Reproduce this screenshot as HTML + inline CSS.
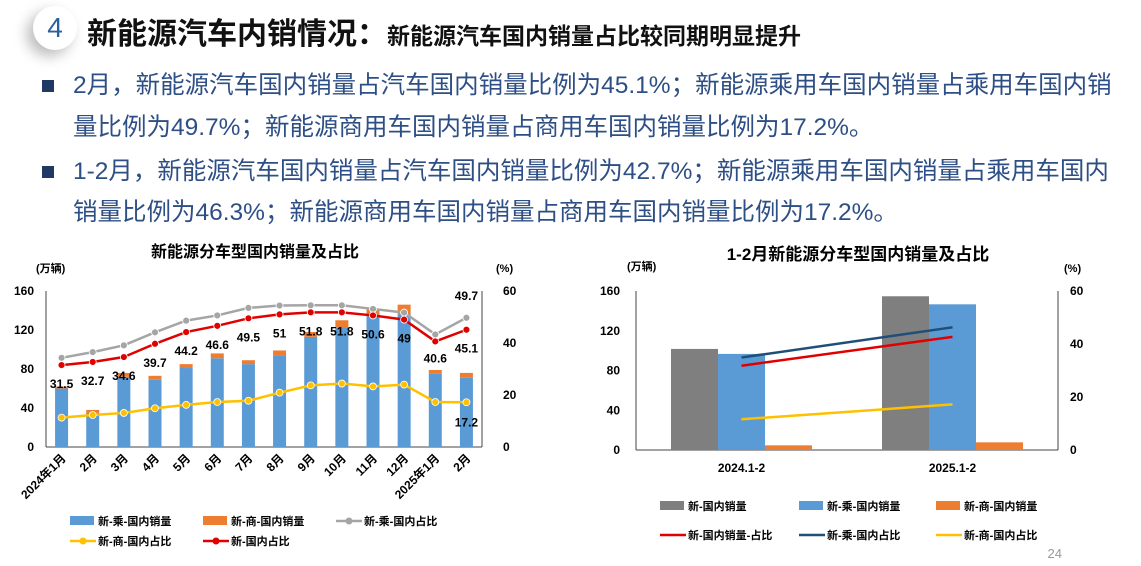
<!DOCTYPE html>
<html><head><meta charset="utf-8">
<style>
body{margin:0;width:1141px;height:566px;background:#fff;overflow:hidden;position:relative;font-family:"Liberation Sans","Noto Sans CJK SC",sans-serif;}
.circ{position:absolute;left:33px;top:6px;width:44px;height:44px;border-radius:50%;background:#fff;box-shadow:-6px 6px 14px #bbb;color:#2c5fa0;font-size:28px;text-align:center;line-height:44px;}
.title{position:absolute;left:87px;top:9px;font-weight:bold;color:#111;white-space:nowrap;font-size:30px;}
.title span{font-size:23px;}
.bul{position:absolute;left:42px;width:12px;height:12px;background:#1f3864;}
.txt{position:absolute;left:73px;font-size:24.5px;color:#2e4f86;white-space:nowrap;line-height:30px;}
svg{position:absolute;left:0;top:0;}
</style></head><body>
<div class="circ">4</div>
<div class="title">新能源汽车内销情况：<span>新能源汽车国内销量占比较同期明显提升</span></div>
<div class="bul" style="top:80px"></div>
<div class="txt" style="top:71px">2月，新能源汽车国内销量占汽车国内销量比例为45.1%；新能源乘用车国内销量占乘用车国内销</div>
<div class="txt" style="top:113px">量比例为49.7%；新能源商用车国内销量占商用车国内销量比例为17.2%。</div>
<div class="bul" style="top:166px"></div>
<div class="txt" style="top:157px">1-2月，新能源汽车国内销量占汽车国内销量比例为42.7%；新能源乘用车国内销量占乘用车国内</div>
<div class="txt" style="top:198px">销量比例为46.3%；新能源商用车国内销量占商用车国内销量比例为17.2%。</div>
<svg id="c" width="1141" height="566"></svg>
<script>
const months=["2024年1月","2月","3月","4月","5月","6月","7月","8月","9月","10月","11月","12月","2025年1月","2月"];
const passVol=[60,35,72,69,81,91,85,94,113,123,135,136,75,71];
const comVol=[2,3,4,4,4,5,4,5,5,7,6,10,4,5];
const passShare=[34.3,36.5,39.1,44.1,48.6,50.6,53.5,54.4,54.5,54.5,53.1,51.7,43.3,49.7];
const comShare=[11.3,12.3,13.1,14.9,16.2,17.3,17.8,20.9,23.7,24.4,23.3,24,17.3,17.2];
const totShare=[31.5,32.7,34.6,39.7,44.2,46.6,49.5,51,51.8,51.8,50.6,49,40.6,45.1];
const leftTicks=[0,40,80,120,160];
const rightTicks=[0,20,40,60];
const cats2=["2024.1-2","2025.1-2"];
const totVol2=[101.7,154.7];
const passVol2=[96.7,146.6];
const comVol2=[4.7,7.7];
const totShare2=[31.8,42.7];
const passShare2=[34.9,46.3];
const comShare2=[11.6,17.2];

const svg=document.getElementById('c');const NS="http://www.w3.org/2000/svg";
function el(t,a,txt){const e=document.createElementNS(NS,t);for(const k in a)e.setAttribute(k,a[k]);if(txt!==undefined)e.textContent=txt;svg.appendChild(e);return e;}
const F='"Liberation Sans","Noto Sans CJK SC",sans-serif';

// ---- left chart
const L={x0:46,x1:482,y0:447,y1:291};
const slot=(L.x1-L.x0)/months.length;
const lx=i=>L.x0+slot*(i+0.5);
const ly=v=>L.y0-(v/160)*(L.y0-L.y1);
const ry=v=>L.y0-(v/60)*(L.y0-L.y1);
let e;
e=el('text',{x:255,y:257,'font-size':16,'font-weight':'bold','text-anchor':'middle','font-family':F},'新能源分车型国内销量及占比');

e=el('text',{x:36,y:272,'font-size':11,'font-weight':'bold','font-family':F},'(万辆)');

e=el('text',{x:496,y:272,'font-size':11,'font-weight':'bold','font-family':F},'(%)');

leftTicks.forEach(t=>{e=el('text',{x:34,y:ly(t)+4,'font-size':12,'font-weight':'bold','text-anchor':'end','font-family':F},t);
});
rightTicks.forEach(t=>{e=el('text',{x:503,y:ry(t)+4,'font-size':12,'font-weight':'bold','font-family':F},t);
});
el('line',{x1:L.x0,y1:L.y1,x2:L.x0,y2:L.y0,stroke:'#444'});
el('line',{x1:L.x1,y1:L.y1,x2:L.x1,y2:L.y0,stroke:'#444'});
el('line',{x1:L.x0,y1:L.y0,x2:L.x1,y2:L.y0,stroke:'#444'});
months.forEach((m,i)=>{
 const bw=13;
 e=el('rect',{x:lx(i)-bw/2,y:ly(passVol[i]),width:bw,height:L.y0-ly(passVol[i]),fill:'#5b9bd5'});
 
 e=el('rect',{x:lx(i)-bw/2,y:ly(passVol[i]+comVol[i]),width:bw,height:ly(passVol[i])-ly(passVol[i]+comVol[i]),fill:'#ed7d31'});
 
 e=el('text',{transform:`translate(${lx(i)+5},${L.y0+12}) rotate(-45)`,'font-size':12,'font-weight':'bold','text-anchor':'end','font-family':F},m);
 
});
function series(arr,color,name,xf,yf,dots){
 e=el('polyline',{points:arr.map((v,i)=>xf(i)+','+yf(v)).join(' '),fill:'none',stroke:color,'stroke-width':2.5});
 
 if(dots)arr.forEach((v,i)=>{e=el('circle',{cx:xf(i),cy:yf(v),r:3.5,fill:color,stroke:'#fff','stroke-width':0.8});
 });
}
series(passShare,'#a5a5a5','line-passenger-share',lx,ry,true);
series(comShare,'#ffc000','line-commercial-share',lx,ry,true);
series(totShare,'#e00000','line-total-share',lx,ry,true);
totShare.forEach((v,i)=>{
 let y=ry(v)+23;if(i===12)y=ry(v)+21;
 e=el('text',{x:lx(i),y:y,'font-size':12,'font-weight':'bold','text-anchor':'middle','font-family':F},v);
 
});
e=el('text',{x:lx(13),y:ry(passShare[13])-18,'font-size':12,'font-weight':'bold','text-anchor':'middle','font-family':F},passShare[13]);

e=el('text',{x:lx(13),y:ry(comShare[13])+24,'font-size':12,'font-weight':'bold','text-anchor':'middle','font-family':F},comShare[13]);

function legend(x,y,type,color,label){
 if(type==='bar'){e=el('rect',{x:x,y:y-5,width:24,height:9,fill:color});}
 else{e=el('line',{x1:x,y1:y,x2:x+26,y2:y,stroke:color,'stroke-width':2.5});if(type==='dot')el('circle',{cx:x+13,cy:y,r:3.5,fill:color});}
 
 e=el('text',{x:x+28,y:y+4,'font-size':11,'font-weight':'bold','font-family':F},label);
 
}
legend(70,521,'bar','#5b9bd5','新-乘-国内销量');
legend(203,521,'bar','#ed7d31','新-商-国内销量');
legend(336,521,'dot','#a5a5a5','新-乘-国内占比');
legend(70,541,'dot','#ffc000','新-商-国内占比');
legend(203,541,'dot','#e00000','新-国内占比');

// ---- right chart
const R={x0:636,x1:1058,y0:450,y1:291};
const rs=(R.x1-R.x0)/cats2.length;
const rx=i=>R.x0+rs*(i+0.5);
const rly=v=>R.y0-(v/160)*(R.y0-R.y1);
const rry=v=>R.y0-(v/60)*(R.y0-R.y1);
e=el('text',{x:858,y:260,'font-size':17,'font-weight':'bold','text-anchor':'middle','font-family':F},'1-2月新能源分车型国内销量及占比');

e=el('text',{x:627,y:270,'font-size':11,'font-weight':'bold','font-family':F},'(万辆)');

e=el('text',{x:1064,y:272,'font-size':11,'font-weight':'bold','font-family':F},'(%)');

leftTicks.forEach(t=>{e=el('text',{x:620,y:rly(t)+4,'font-size':12,'font-weight':'bold','text-anchor':'end','font-family':F},t);
});
rightTicks.forEach(t=>{e=el('text',{x:1070,y:rry(t)+4,'font-size':12,'font-weight':'bold','font-family':F},t);
});
el('line',{x1:R.x0,y1:R.y1,x2:R.x0,y2:R.y0,stroke:'#444'});
el('line',{x1:R.x1,y1:R.y1,x2:R.x1,y2:R.y0,stroke:'#444'});
el('line',{x1:R.x0,y1:R.y0,x2:R.x1,y2:R.y0,stroke:'#444'});
cats2.forEach((c,i)=>{
 const bw=47;
 [[totVol2,'#7f7f7f','bar-total-volume'],[passVol2,'#5b9bd5','bar-passenger-volume-ytd'],[comVol2,'#ed7d31','bar-commercial-volume-ytd']].forEach((s,k)=>{
  e=el('rect',{x:rx(i)-70.5+k*bw,y:rly(s[0][i]),width:bw,height:R.y0-rly(s[0][i]),fill:s[1]});
  
 });
 e=el('text',{x:rx(i),y:R.y0+22,'font-size':12,'font-weight':'bold','text-anchor':'middle','font-family':F},c);
 
});
series(passShare2,'#1f4e79','line-passenger-share-ytd',rx,rry,false);
series(totShare2,'#e00000','line-total-share-ytd',rx,rry,false);
series(comShare2,'#ffc000','line-commercial-share-ytd',rx,rry,false);
legend(660,506,'bar','#7f7f7f','新-国内销量');
legend(799,506,'bar','#5b9bd5','新-乘-国内销量');
legend(936,506,'bar','#ed7d31','新-商-国内销量');
legend(660,535,'line','#e00000','新-国内销量-占比');
legend(799,535,'line','#1f4e79','新-乘-国内占比');
legend(936,535,'line','#ffc000','新-商-国内占比');
e=el('text',{x:1062,y:558,'font-size':13,fill:'#999','text-anchor':'end','font-family':F},'24');

</script>
</body></html>
